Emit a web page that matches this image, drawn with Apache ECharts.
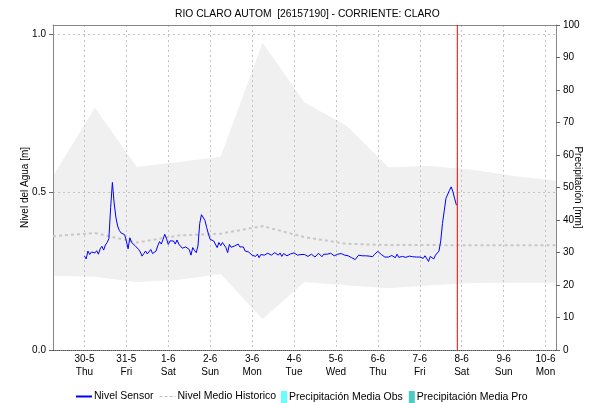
<!DOCTYPE html>
<html>
<head>
<meta charset="utf-8">
<script src="https://cdn.jsdelivr.net/npm/echarts@6/dist/echarts.min.js"></script>
<style>
  html, body { margin: 0; padding: 0; background: #fff; }
  #chart { width: 590px; height: 403px; }
</style>
</head>
<body>
<div id="chart"></div>
<script>
// Day ticks: hours counted from 30-5 00:00
const tickHours = [0, 24, 48, 72, 96, 120, 144, 168, 192, 216, 240, 264];
const dayLabels = ['30-5', '31-5', '1-6', '2-6', '3-6', '4-6', '5-6', '6-6', '7-6', '8-6', '9-6', '10-6'];
const weekLabels = ['Thu', 'Fri', 'Sat', 'Sun', 'Mon', 'Tue', 'Wed', 'Thu', 'Fri', 'Sat', 'Sun', 'Mon'];

// Hourly sensor level [m], first reading at hour 0
const sensorStartHour = 0;
const nivelSensor = [
  0.297, 0.288, 0.313, 0.302, 0.310, 0.316, 0.307, 0.314, 0.303, 0.320, 0.328, 0.316,
  0.332, 0.340, 0.352, 0.450, 0.530, 0.465, 0.420, 0.392, 0.378, 0.370, 0.368, 0.365,
  0.345, 0.320, 0.355, 0.340, 0.334, 0.330, 0.328, 0.318, 0.310, 0.297, 0.305, 0.313,
  0.304, 0.310, 0.318, 0.305, 0.310, 0.313, 0.330, 0.343, 0.335, 0.350, 0.366, 0.352,
  0.334, 0.345, 0.340, 0.345, 0.335, 0.348, 0.335, 0.329, 0.322, 0.320, 0.326, 0.329,
  0.318, 0.300, 0.324, 0.315, 0.308, 0.329, 0.400, 0.428, 0.422, 0.410, 0.387, 0.367,
  0.350, 0.347, 0.345, 0.350, 0.324, 0.340, 0.330, 0.340, 0.334, 0.324, 0.308, 0.334,
  0.325, 0.324, 0.329, 0.330, 0.335, 0.326, 0.324, 0.326, 0.313, 0.316, 0.310, 0.308,
  0.300, 0.305, 0.296, 0.303, 0.292, 0.302, 0.300, 0.300, 0.303, 0.306, 0.308, 0.300,
  0.297, 0.308, 0.304, 0.300, 0.307, 0.296, 0.305, 0.302, 0.298, 0.300, 0.304, 0.300,
  0.307, 0.303, 0.300, 0.296, 0.302, 0.304, 0.302, 0.305, 0.296, 0.300, 0.303, 0.300,
  0.294, 0.300, 0.306, 0.300, 0.295, 0.303, 0.308, 0.303, 0.300, 0.306, 0.302, 0.298,
  0.304, 0.303, 0.300, 0.305, 0.302, 0.300, 0.296, 0.298, 0.294, 0.292, 0.290, 0.286,
  0.280, 0.300, 0.303, 0.298, 0.302, 0.298, 0.300, 0.297, 0.300, 0.295, 0.302, 0.306,
  0.312, 0.317, 0.302, 0.298, 0.294, 0.291, 0.294, 0.296, 0.299, 0.300, 0.292, 0.303,
  0.293, 0.298, 0.296, 0.296, 0.293, 0.299, 0.297, 0.300, 0.295, 0.298, 0.294, 0.299,
  0.294, 0.297, 0.290, 0.298, 0.292, 0.280, 0.296, 0.292, 0.288,
  0.300, 0.306, 0.313, 0.345, 0.400, 0.440, 0.480, 0.474, 0.505, 0.516, 0.500, 0.478, 0.458
];

// Historic statistics, one value per day at 06:00
const histHours = [-18, 6, 30, 54, 78, 102, 126, 150, 174, 198, 222, 246, 270];
const histMax   = [0.550, 0.766, 0.579, 0.595, 0.611, 0.972, 0.783, 0.709, 0.578, 0.582, 0.570, 0.550, 0.535];
const histMin   = [0.235, 0.232, 0.215, 0.222, 0.240, 0.098, 0.215, 0.205, 0.195, 0.205, 0.212, 0.213, 0.213];
const histMedio = [0.360, 0.370, 0.340, 0.362, 0.368, 0.392, 0.357, 0.336, 0.332, 0.332, 0.331, 0.331, 0.331];

// Precipitation series (no values in this period)
const precipObs = [];
const precipPro = [];

// Current time marker
const nowHour = 213.5;

const FONT = 'Liberation Sans, Arial, sans-serif';
const LEVEL_MAX = 1.028;

const sensorData = nivelSensor.map((v, i) => [sensorStartHour + i, v]);
const bandHigh = histHours.map((h, i) => [h, histMax[i]]);
const bandLow = histHours.map((h, i) => [h, histMin[i]]);
const medioData = histHours.map((h, i) => [h, histMedio[i]]);
const nowLine = [[nowHour, 0], [nowHour, LEVEL_MAX]];

const legendText = { fontFamily: FONT, fontSize: 10.5, color: '#000', padding: [0, 0, 0, -3] };

const chart = echarts.init(document.getElementById('chart'), null, { renderer: 'canvas' });

chart.setOption({
  animation: false,
  backgroundColor: '#ffffff',
  textStyle: { fontFamily: FONT },
  title: {
    text: 'RIO CLARO AUTOM  [26157190] - CORRIENTE: CLARO',
    left: 170,
    top: 4,
    textStyle: { fontFamily: FONT, fontSize: 10.3, fontWeight: 'normal', color: '#000' }
  },
  grid: { left: 53, right: 34, top: 25, bottom: 53, containLabel: false, outerBoundsMode: 'none' },
  legend: [
    {
      left: 71, top: 386, itemWidth: 16, itemHeight: 2, itemGap: 6,
      textStyle: legendText,
      data: [
        { name: 'Nivel Sensor', icon: 'rect' },
        { name: 'Nivel Medio Historico', icon: 'path://M0,0h3v1h-3z M5,0h3v1h-3z M10,0h3v1h-3z M15,0h1v1h-1z' }
      ]
    },
    {
      left: 276, top: 386, itemWidth: 6, itemHeight: 12, itemGap: 6, icon: 'rect',
      textStyle: legendText,
      data: ['Precipitación Media Obs', 'Precipitación Media Pro']
    }
  ],
  xAxis: [
    {
      type: 'value', min: -18, max: 270, position: 'bottom',
      axisLine: { show: true, onZero: false, lineStyle: { color: '#555', type: 'dotted', width: 1 } },
      axisTick: { show: false, customValues: tickHours },
      axisLabel: {
        customValues: tickHours,
        fontFamily: FONT, fontSize: 10, color: '#000', lineHeight: 13, margin: 3,
        formatter: v => {
          const i = tickHours.indexOf(v);
          return i < 0 ? '' : dayLabels[i] + '\n' + weekLabels[i];
        }
      },
      splitLine: { show: true, lineStyle: { color: '#c4c4c4', type: [2, 3], width: 1 } }
    },
    {
      type: 'value', min: -18, max: 270, position: 'top',
      axisLine: { show: true, onZero: false, lineStyle: { color: '#888', width: 1 } },
      axisTick: { show: false }, axisLabel: { show: false }, splitLine: { show: false }
    }
  ],
  yAxis: [
    {
      type: 'value', min: 0, max: LEVEL_MAX, position: 'left',
      name: 'Nivel del Agua [m]', nameLocation: 'middle', nameGap: 23, nameRotate: 90,
      nameMoveOverlap: false,
      nameTextStyle: { fontFamily: FONT, fontSize: 10, color: '#000' },
      axisLine: { show: true, onZero: false, lineStyle: { color: '#888', width: 1 } },
      axisTick: { show: true, length: 4, customValues: [0, 0.5, 1], lineStyle: { color: '#666' } },
      axisLabel: {
        customValues: [0, 0.5, 1], fontFamily: FONT, fontSize: 10, color: '#000', margin: 7,
        formatter: v => v.toFixed(1)
      },
      splitLine: { show: true, lineStyle: { color: '#c4c4c4', type: [2, 3], width: 1 } }
    },
    {
      type: 'value', min: 0, max: 100, interval: 10, position: 'right',
      name: 'Precipitación [mm]', nameLocation: 'middle', nameGap: 17, nameRotate: -90,
      nameMoveOverlap: false,
      nameTextStyle: { fontFamily: FONT, fontSize: 10, color: '#000' },
      axisLine: { show: true, onZero: false, lineStyle: { color: '#888', width: 1 } },
      axisTick: { show: true, length: 4, lineStyle: { color: '#666' } },
      axisLabel: { fontFamily: FONT, fontSize: 10, color: '#000', margin: 7 },
      splitLine: { show: false }
    }
  ],
  series: [
    {
      name: 'hist-max', type: 'line', data: bandHigh, z: -3, silent: true,
      symbol: 'none', lineStyle: { width: 0, opacity: 0 },
      areaStyle: { color: '#f0f0f0', opacity: 1 }
    },
    {
      name: 'hist-min', type: 'line', data: bandLow, z: -2, silent: true,
      symbol: 'none', lineStyle: { width: 0, opacity: 0 },
      areaStyle: { color: '#ffffff', opacity: 1 }
    },
    {
      name: 'Nivel Medio Historico', type: 'line', data: medioData, symbol: 'none',
      color: '#c0c0c0',
      lineStyle: { color: '#c8c8c8', width: 2, type: [3, 3] }, z: 3
    },
    {
      name: 'Nivel Sensor', type: 'line', data: sensorData, symbol: 'none',
      color: '#0000ff',
      lineStyle: { color: '#0000ff', width: 1 }, z: 4
    },
    {
      name: 'now', type: 'line', data: nowLine, symbol: 'none', silent: true,
      color: '#ff0000',
      lineStyle: { color: '#ff0000', width: 1 }, z: 5
    },
    { name: 'Precipitación Media Obs', type: 'line', yAxisIndex: 1, data: precipObs, color: '#66ffff', symbol: 'none' },
    { name: 'Precipitación Media Pro', type: 'line', yAxisIndex: 1, data: precipPro, color: '#4ccac4', symbol: 'none' }
  ]
});
</script>
</body>
</html>
